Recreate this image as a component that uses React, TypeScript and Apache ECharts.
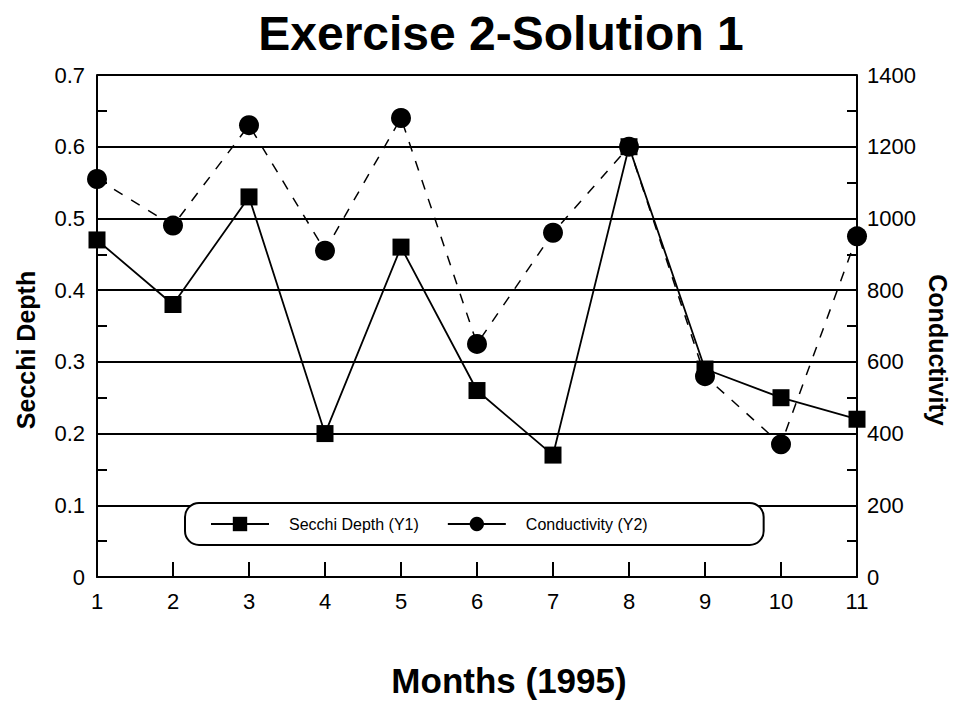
import React, { useEffect, useRef } from "react";
import * as echarts from "echarts";

const months = ["1", "2", "3", "4", "5", "6", "7", "8", "9", "10", "11"];
const secchiDepth = [0.47, 0.38, 0.53, 0.2, 0.46, 0.26, 0.17, 0.6, 0.29, 0.25, 0.22];
const conductivity = [1110, 980, 1260, 910, 1280, 650, 960, 1200, 560, 370, 950];
const titleText = "Exercise 2-Solution 1";
const xName = "Months (1995)";
const y1Name = "Secchi Depth";
const y2Name = "Conductivity";
const s1Name = "Secchi Depth (Y1)";
const s2Name = "Conductivity (Y2)";

export default function App() {
  const ref = useRef<HTMLDivElement>(null);
  useEffect(() => {
    if (!ref.current) return;
    const chart = echarts.init(ref.current, null, { renderer: "svg" });
    const font = "Liberation Sans, Arial, sans-serif";
    const labelStyle = { color: "#000", fontSize: 22, fontFamily: font };
    chart.setOption({
      animation: false,
      backgroundColor: "#fff",
      grid: { left: 97, right: 96, top: 75, bottom: 125, containLabel: false },
      xAxis: {
        type: "category",
        data: months,
        boundaryGap: false,
        axisLine: { show: true, lineStyle: { color: "#000", width: 2 } },
        axisTick: { show: true, inside: true, length: 15, lineStyle: { color: "#000", width: 2 } },
        axisLabel: { ...labelStyle, margin: 13 },
        splitLine: { show: false },
      },
      yAxis: [
        {
          type: "value",
          min: 0,
          max: 0.7,
          interval: 0.1,
          axisLine: { show: true, lineStyle: { color: "#000", width: 2 } },
          axisTick: { show: true, inside: true, length: 10, lineStyle: { color: "#000", width: 2 } },
          minorTick: { show: true, splitNumber: 2, length: 10, lineStyle: { color: "#000", width: 2 } },
          axisLabel: { ...labelStyle, margin: 12 },
          splitLine: { show: true, lineStyle: { color: "#000", width: 2 } },
        },
        {
          type: "value",
          min: 0,
          max: 1400,
          interval: 200,
          position: "right",
          axisLine: { show: true, lineStyle: { color: "#000", width: 2 } },
          axisTick: { show: true, inside: true, length: 10, lineStyle: { color: "#000", width: 2 } },
          minorTick: { show: true, splitNumber: 2, length: 10, lineStyle: { color: "#000", width: 2 } },
          axisLabel: { ...labelStyle, margin: 10, formatter: (v: number) => String(v) },
          splitLine: { show: false },
        },
      ],
      legend: {
        left: 185,
        top: 503,
        orient: "horizontal",
        itemWidth: 58,
        itemHeight: 18,
        itemGap: 28,
        padding: [13, 116, 13, 25],
        backgroundColor: "#fff",
        borderColor: "#000",
        borderWidth: 2,
        borderRadius: 14,
        textStyle: { color: "#000", fontSize: 16, fontFamily: font, padding: [0, 0, 0, 15] },
        data: [
          { name: s1Name, lineStyle: { type: "solid" } },
          { name: s2Name, lineStyle: { type: "solid" } },
        ],
      },
      series: [
        {
          name: s1Name,
          type: "line",
          yAxisIndex: 0,
          data: secchiDepth,
          symbol: "rect",
          symbolSize: 17,
          itemStyle: { color: "#000" },
          lineStyle: { color: "#000", width: 1.8, type: "solid" },
          z: 3,
        },
        {
          name: s2Name,
          type: "line",
          yAxisIndex: 1,
          data: conductivity,
          symbol: "circle",
          symbolSize: 20,
          itemStyle: { color: "#000" },
          lineStyle: { color: "#000", width: 1.5, type: [10, 10] },
          z: 4,
        },
      ],
      graphic: [
        {
          type: "text",
          x: 501,
          y: 33,
          style: { text: titleText, align: "center", verticalAlign: "middle", font: `bold 48px ${font}`, fill: "#000" },
        },
        {
          type: "text",
          x: 509,
          y: 680,
          style: { text: xName, align: "center", verticalAlign: "middle", font: `bold 35px ${font}`, fill: "#000" },
        },
        {
          type: "text",
          x: 26,
          y: 350,
          rotation: Math.PI / 2,
          style: { text: y1Name, align: "center", verticalAlign: "middle", font: `bold 25px ${font}`, fill: "#000" },
        },
        {
          type: "text",
          x: 938,
          y: 350,
          rotation: -Math.PI / 2,
          style: { text: y2Name, align: "center", verticalAlign: "middle", font: `bold 25px ${font}`, fill: "#000" },
        },
      ],
    });
    return () => chart.dispose();
  }, []);
  return <div ref={ref} style={{ width: 953, height: 702, position: "absolute", left: 0, top: 0 }} />;
}
